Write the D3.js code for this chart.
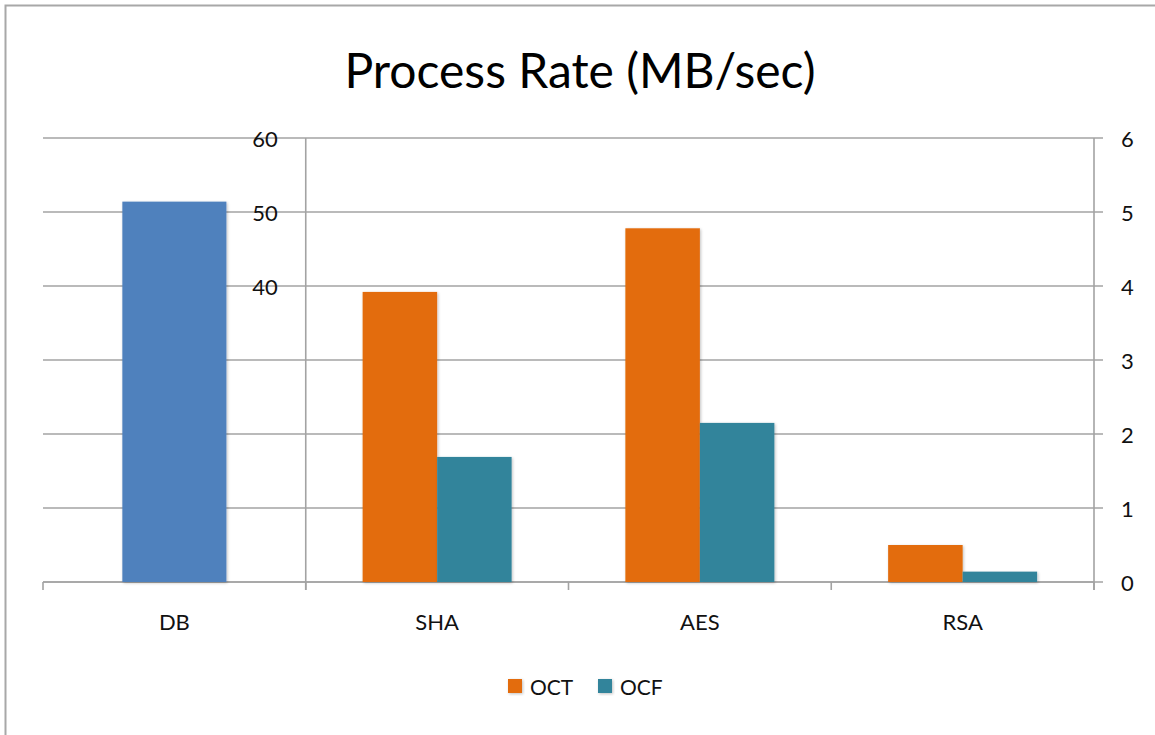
<!DOCTYPE html>
<html>
<head>
<meta charset="utf-8">
<script src="https://cdn.jsdelivr.net/npm/d3@7"></script>
<style>
  html, body { margin: 0; padding: 0; background: #fff; }
  svg { display: block; font-family: "Lato", "Open Sans", sans-serif; }
</style>
</head>
<body>
<svg id="chart" width="1155" height="735"></svg>
<script>
// Categories along the bottom axis
const categories = ["DB", "SHA", "AES", "RSA"];

// DB throughput, read against the 0–60 axis
const dbValues = [51.4];

// Grouped series, read against the 0–6 axis
const seriesNames = ["OCT", "OCF"];
const octValues = [null, 3.92, 4.78, 0.50];
const ocfValues = [null, 1.69, 2.15, 0.14];

// Axis tick labels
const leftTickLabels = [40, 50, 60];
const rightTicks = [0, 1, 2, 3, 4, 5, 6];

const colors = { DB: "#4F81BD", OCT: "#E36C0A", OCF: "#31849B" };
const gridColor = "#A3A3A3";
const labelSize = 22;

const svg = d3.select("#chart");
const W = 1155, H = 735;

// Outer frame
svg.append("rect")
  .attr("x", 5.5).attr("y", 5.5)
  .attr("width", W + 100).attr("height", H + 100)
  .attr("fill", "#fff").attr("stroke", "#A8A8A8").attr("stroke-width", 2);

const plot = { left: 43, right: 1094, top: 138, bottom: 582 };

const x = d3.scaleBand().domain(categories).range([plot.left, plot.right]).padding(0);
const yRight = d3.scaleLinear().domain([0, 6]).range([plot.bottom, plot.top]);
const yLeft = d3.scaleLinear().domain([0, 60]).range([plot.bottom, plot.top]);

// Drop shadow for bars
const defs = svg.append("defs");
const f = defs.append("filter").attr("id", "shadow")
  .attr("x", "-10%").attr("y", "-10%").attr("width", "130%").attr("height", "130%");
f.append("feGaussianBlur").attr("in", "SourceAlpha").attr("stdDeviation", 1.6).attr("result", "b");
f.append("feOffset").attr("in", "b").attr("dx", 0.8).attr("dy", 0.8).attr("result", "o");
f.append("feComponentTransfer").attr("in", "o").attr("result", "s")
  .append("feFuncA").attr("type", "linear").attr("slope", 0.25);
const m = f.append("feMerge");
m.append("feMergeNode").attr("in", "s");
m.append("feMergeNode").attr("in", "SourceGraphic");

// Horizontal gridlines
svg.append("g").selectAll("line").data(rightTicks).join("line")
  .attr("x1", plot.left).attr("x2", plot.right + 9)
  .attr("y1", d => yRight(d)).attr("y2", d => yRight(d))
  .attr("stroke", gridColor).attr("stroke-width", 1.6);

// Right axis line and labels
const rightAxis = d3.axisRight(yRight).tickValues(rightTicks)
  .tickFormat(d3.format("d")).tickSize(0).tickPadding(27);
const ra = svg.append("g").attr("transform", `translate(${plot.right},0)`).call(rightAxis);
ra.select(".domain").attr("stroke", gridColor).attr("stroke-width", 1.6)
  .attr("d", `M0,${plot.top}V${plot.bottom + 8}`);
ra.selectAll("text").attr("font-size", labelSize).attr("fill", "#111")
  .attr("font-family", "Lato, sans-serif").attr("dy", "0.4em");

// Left (0–60) axis sits at the DB/SHA boundary, labels only where visible
const leftX = x("SHA");
const la = svg.append("g").attr("transform", `translate(${leftX},0)`)
  .call(d3.axisLeft(yLeft).tickValues(leftTickLabels).tickFormat(d3.format("d"))
    .tickSize(0).tickPadding(28));
la.select(".domain").attr("stroke", gridColor).attr("stroke-width", 1.6)
  .attr("d", `M0,${plot.top}V${plot.bottom + 8}`);
la.selectAll("text").attr("font-size", labelSize).attr("fill", "#111")
  .attr("font-family", "Lato, sans-serif").attr("dy", "0.4em");

// Category axis with boundary ticks
svg.append("line").attr("x1", plot.left).attr("x2", plot.right)
  .attr("y1", plot.bottom).attr("y2", plot.bottom)
  .attr("stroke", gridColor).attr("stroke-width", 1.6);
const bounds = categories.map(c => x(c)).concat([plot.right]);
svg.append("g").selectAll("line").data(bounds).join("line")
  .attr("x1", d => d).attr("x2", d => d)
  .attr("y1", plot.bottom).attr("y2", plot.bottom + 8)
  .attr("stroke", gridColor).attr("stroke-width", 1.6);
svg.append("g").selectAll("text").data(categories).join("text")
  .attr("x", d => x(d) + x.bandwidth() / 2).attr("y", 630)
  .attr("text-anchor", "middle").attr("font-size", labelSize).attr("fill", "#111")
  .text(d => d);

// DB bar
const dbWidth = x.bandwidth() * 0.396;
svg.append("g").selectAll("rect").data(dbValues).join("rect")
  .attr("x", x("DB") + (x.bandwidth() - dbWidth) / 2)
  .attr("width", dbWidth)
  .attr("y", d => yLeft(d)).attr("height", d => yLeft(0) - yLeft(d))
  .attr("fill", colors.DB).attr("filter", "url(#shadow)");

// Grouped OCT / OCF bars
const groupWidth = x.bandwidth() * 0.567;
const x1 = d3.scaleBand().domain(seriesNames).range([0, groupWidth]).padding(0);
const rows = categories.map((c, i) => ({ cat: c, OCT: octValues[i], OCF: ocfValues[i] }))
  .filter(r => r.OCT !== null);
svg.append("g").selectAll("g").data(rows).join("g")
  .attr("transform", d => `translate(${x(d.cat) + (x.bandwidth() - groupWidth) / 2},0)`)
  .selectAll("rect").data(d => seriesNames.map(k => ({ key: k, value: d[k] }))).join("rect")
  .attr("x", d => x1(d.key)).attr("width", x1.bandwidth())
  .attr("y", d => yRight(d.value)).attr("height", d => yRight(0) - yRight(d.value))
  .attr("fill", d => colors[d.key]).attr("filter", "url(#shadow)");

// Title
svg.append("text").attr("x", 580).attr("y", 88)
  .attr("text-anchor", "middle").attr("font-size", 48).attr("fill", "#000")
  .text("Process Rate (MB/sec)");

// Legend
const legend = svg.append("g").attr("transform", "translate(508,679)");
const legendItems = [{ k: "OCT", dx: 0 }, { k: "OCF", dx: 90 }];
legendItems.forEach(it => {
  legend.append("rect").attr("x", it.dx).attr("y", 0).attr("width", 14).attr("height", 14)
    .attr("fill", colors[it.k]).attr("filter", "url(#shadow)");
  legend.append("text").attr("x", it.dx + 22).attr("y", 15.5).attr("font-size", 21)
    .attr("fill", "#111").text(it.k);
});
</script>
</body>
</html>
